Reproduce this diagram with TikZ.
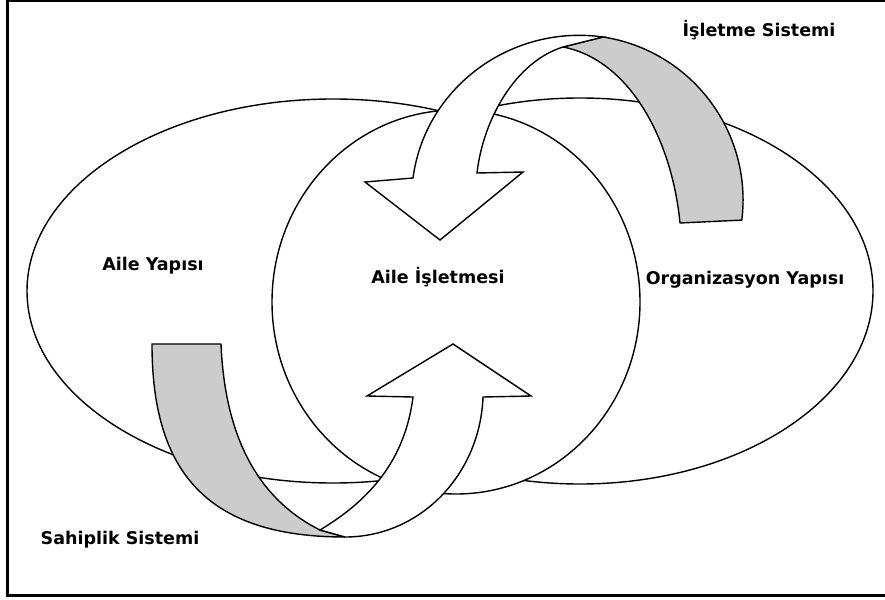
\documentclass[tikz,border=0pt]{standalone}
\usepackage{fontspec}
\setmainfont{DejaVu Sans}
\usepackage{xcolor}
\usepackage{tikz}
\definecolor{bandgray}{RGB}{204,204,204}

\begin{document}
\begin{tikzpicture}[x=1pt, y=-1pt,
	ring/.style={draw, fill=white, line width=1.4pt},
	band/.style={draw, fill=bandgray, line width=1.4pt, line join=round},
	bent/.style={draw, fill=white, line width=1.4pt},
	lbl/.style={font=\bfseries\fontsize{17.5}{20}\selectfont, inner sep=0pt}]
	\useasboundingbox (0,0) rectangle (885,599);
	\draw[line width=2.4pt] (895,1) -- (7.5,1) -- (7.5,595.5) -- (895,595.5);
	
	\draw[ring] (333,291) ellipse [x radius=306pt, y radius=192pt];
	\draw[ring] (580,291) ellipse [x radius=293pt, y radius=193pt];
	\draw[ring] (456,302) ellipse [x radius=184pt, y radius=192pt];
	
	\draw[band] (603,37) .. controls (691.1,50.5) and (752.7,131.6) .. (741.8,220.1) -- (680,223) .. controls (672,140) and (630,60) .. (563,47) -- cycle;
	\draw[bent] (413,178) .. controls (425.2,86.6) and (511.9,24.1) .. (603,37) -- (563,47) .. controls (515,62) and (483,120) .. (477,173) -- (523,172) -- (440,240) -- (365,182) -- cycle;
	
	\draw[band] (152,344) -- (221,344) .. controls (225,440) and (260,500) .. (320,530) -- (345,537) .. controls (205,537) and (152,470) .. (152,344) -- cycle;
	\draw[bent] (345,537) .. controls (420,537) and (480,475) .. (483,397) -- (531,396) -- (453,344) -- (367,396) -- (413,397) .. controls (405,460) and (370,500) .. (320,530) -- cycle;
	
	\node[lbl] (aile) at (153,266) {Aile Yapısı};
	\node[lbl] (isletme) at (438,277) {Aile İşletmesi};
	\node[lbl] (orgyapi) at (745,280) {Organizasyon Yapısı};
	\node[lbl] (sahiplik) at (120,540) {Sahiplik Sistemi};
	\node[lbl] (sistem) at (759,30) {İşletme Sistemi};
\end{tikzpicture}
\end{document}
